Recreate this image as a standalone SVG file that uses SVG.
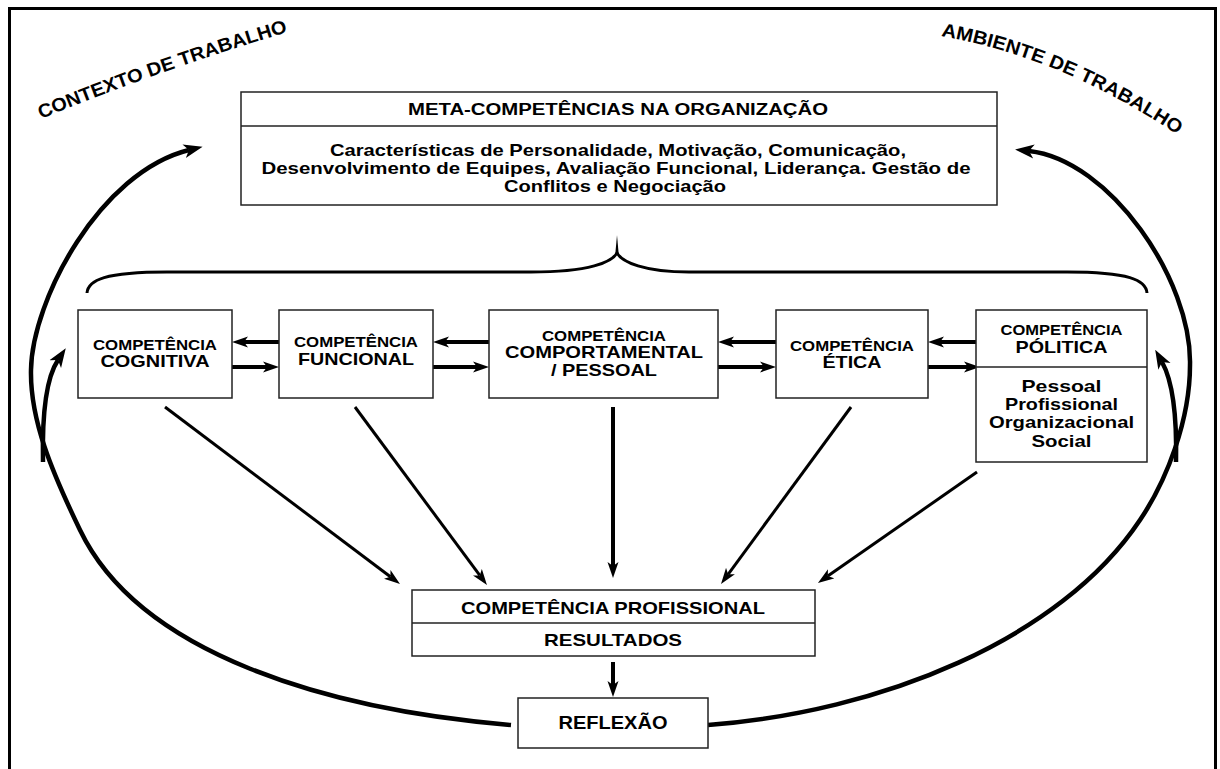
<svg xmlns="http://www.w3.org/2000/svg" width="1220" height="769" viewBox="0 0 1220 769">
<style>
text{font-family:"Liberation Sans",Arial,sans-serif;font-weight:bold;fill:#000;}
.m{text-anchor:middle;}
.box{fill:#fff;stroke:#222;stroke-width:1.5;}
.sep{stroke:#222;stroke-width:1.5;}
.conn{fill:none;stroke:#000;}
.h{stroke-width:4;marker-end:url(#ah);}
.d{stroke-width:3;marker-end:url(#ah);}
.c{stroke-width:4.5;marker-end:url(#ahc);}
.s15{font-size:15px;}
.s16{font-size:16px;}
.s165{font-size:16.5px;}
.s17{font-size:17px;}
.s175{font-size:17.5px;}
.s19{font-size:19px;}
</style>
<defs>
<marker id="ah" markerUnits="userSpaceOnUse" viewBox="0 -6 16 12" markerWidth="16" markerHeight="12" refX="4" refY="0" orient="auto"><path d="M0,-5.5 L16,0 L0,5.5 L4,0 Z"/></marker>
<marker id="ahc" markerUnits="userSpaceOnUse" viewBox="0 -7.5 19 15" markerWidth="19" markerHeight="15" refX="5" refY="0" orient="auto"><path d="M0,-7 L19,0 L0,7 L5,0 Z"/></marker>
<path id="pCtx" d="M 41,119 Q 160,70 291,31"/>
<path id="pAmb" d="M 941,36 Q 1065,58 1182,138"/>
</defs>
<rect x="9.5" y="8.5" width="1206" height="800" fill="#fff" stroke="#000" stroke-width="3"/>

<g id="labels">
<text class="s19"><textPath href="#pCtx" textLength="262" lengthAdjust="spacingAndGlyphs">CONTEXTO DE TRABALHO</textPath></text>
<text class="s19"><textPath href="#pAmb" textLength="258" lengthAdjust="spacingAndGlyphs">AMBIENTE DE TRABALHO</textPath></text>
</g>

<g id="connectors">
<path class="conn" stroke-width="3" d="M 87,293 C 88,280 105,272 167,272 L 531,272 C 590,272 612,262 617,253 C 622,262 644,272 689,272 L 1067,272 C 1129,272 1146,280 1147,293"/>
<path d="M 615.3,254 L 617,235 L 618.7,254 Z" fill="#000"/>
<path class="conn c" d="M 511,725 C 330,710 140,655 80,530 C 52,472 30,420 31,370 C 32,300 100,172 189,150"/>
<path class="conn c" d="M 43,462 C 42,415 46,378 58,360"/>
<path class="conn c" d="M 708,725 C 880,712 1060,640 1140,520 C 1167,480 1190,420 1190,365 C 1192,280 1110,160 1029,151"/>
<path class="conn c" d="M 1176,462 C 1177,415 1172,380 1162,362"/>
<line class="conn h" x1="280" y1="342" x2="244" y2="342"/>
<line class="conn h" x1="232" y1="367" x2="267" y2="367"/>
<line class="conn h" x1="489" y1="342" x2="445" y2="342"/>
<line class="conn h" x1="433" y1="367" x2="477" y2="367"/>
<line class="conn h" x1="776" y1="342" x2="730" y2="342"/>
<line class="conn h" x1="718" y1="367" x2="764" y2="367"/>
<line class="conn h" x1="976" y1="342" x2="940" y2="342"/>
<line class="conn h" x1="928" y1="367" x2="968" y2="367"/>
<line class="conn d" x1="165" y1="407" x2="390.4" y2="576.8"/>
<line class="conn d" x1="355" y1="407" x2="479.8" y2="575.4"/>
<line class="conn h" x1="613" y1="407" x2="613" y2="566"/>
<line class="conn d" x1="851" y1="407" x2="728.1" y2="574.3"/>
<line class="conn d" x1="977" y1="472" x2="827.8" y2="576.1"/>
<line class="conn h" x1="613" y1="662" x2="613" y2="685"/>
</g>

<g id="meta">
<rect class="box" x="241" y="92" width="756" height="113"/>
<line class="sep" x1="241" y1="126" x2="997" y2="126"/>
<text class="m s16" x="618" y="115" textLength="420" lengthAdjust="spacingAndGlyphs">META-COMPETÊNCIAS NA ORGANIZAÇÃO</text>
<text class="m s165" x="618" y="156" textLength="576" lengthAdjust="spacingAndGlyphs">Características de Personalidade, Motivação, Comunicação,</text>
<text class="m s165" x="616" y="174" textLength="709" lengthAdjust="spacingAndGlyphs">Desenvolvimento de Equipes, Avaliação Funcional, Liderança. Gestão de</text>
<text class="m s165" x="615" y="192" textLength="222" lengthAdjust="spacingAndGlyphs">Conflitos e Negociação</text>
</g>

<g id="cognitiva">
<rect class="box" x="78" y="310" width="154" height="88"/>
<text class="m s15" x="155" y="350" textLength="124" lengthAdjust="spacingAndGlyphs">COMPETÊNCIA</text>
<text class="m s17" x="155" y="367" textLength="109" lengthAdjust="spacingAndGlyphs">COGNITIVA</text>
</g>

<g id="funcional">
<rect class="box" x="279" y="310" width="154" height="88"/>
<text class="m s15" x="356" y="347" textLength="124" lengthAdjust="spacingAndGlyphs">COMPETÊNCIA</text>
<text class="m s17" x="356" y="365" textLength="116" lengthAdjust="spacingAndGlyphs">FUNCIONAL</text>
</g>

<g id="comportamental">
<rect class="box" x="489" y="310" width="229" height="88"/>
<text class="m s15" x="604" y="341" textLength="124" lengthAdjust="spacingAndGlyphs">COMPETÊNCIA</text>
<text class="m s17" x="604" y="358" textLength="198" lengthAdjust="spacingAndGlyphs">COMPORTAMENTAL</text>
<text class="m s17" x="604" y="376" textLength="106" lengthAdjust="spacingAndGlyphs">/ PESSOAL</text>
</g>

<g id="etica">
<rect class="box" x="776" y="310" width="152" height="88"/>
<text class="m s15" x="852" y="351" textLength="124" lengthAdjust="spacingAndGlyphs">COMPETÊNCIA</text>
<text class="m s17" x="852" y="368" textLength="59" lengthAdjust="spacingAndGlyphs">ÉTICA</text>
</g>

<g id="politica">
<rect class="box" x="976" y="310" width="171" height="152"/>
<line class="sep" x1="976" y1="367" x2="1147" y2="367"/>
<text class="m s15" x="1061.5" y="335" textLength="122" lengthAdjust="spacingAndGlyphs">COMPETÊNCIA</text>
<text class="m s17" x="1061.5" y="353" textLength="92" lengthAdjust="spacingAndGlyphs">PÓLITICA</text>
<text class="m s165" x="1061.5" y="392" textLength="80" lengthAdjust="spacingAndGlyphs">Pessoal</text>
<text class="m s165" x="1061.5" y="410" textLength="113" lengthAdjust="spacingAndGlyphs">Profissional</text>
<text class="m s165" x="1061.5" y="428" textLength="145" lengthAdjust="spacingAndGlyphs">Organizacional</text>
<text class="m s165" x="1061.5" y="447" textLength="60" lengthAdjust="spacingAndGlyphs">Social</text>
</g>

<g id="profissional">
<rect class="box" x="412" y="590" width="403" height="66"/>
<line class="sep" x1="412" y1="623" x2="815" y2="623"/>
<text class="m s17" x="613" y="614" textLength="304" lengthAdjust="spacingAndGlyphs">COMPETÊNCIA PROFISSIONAL</text>
<text class="m s17" x="613" y="646" textLength="138" lengthAdjust="spacingAndGlyphs">RESULTADOS</text>
</g>

<g id="reflexao">
<rect class="box" x="518" y="698" width="190" height="50"/>
<text class="m s175" x="613" y="729" textLength="109" lengthAdjust="spacingAndGlyphs">REFLEXÃO</text>
</g>
</svg>
